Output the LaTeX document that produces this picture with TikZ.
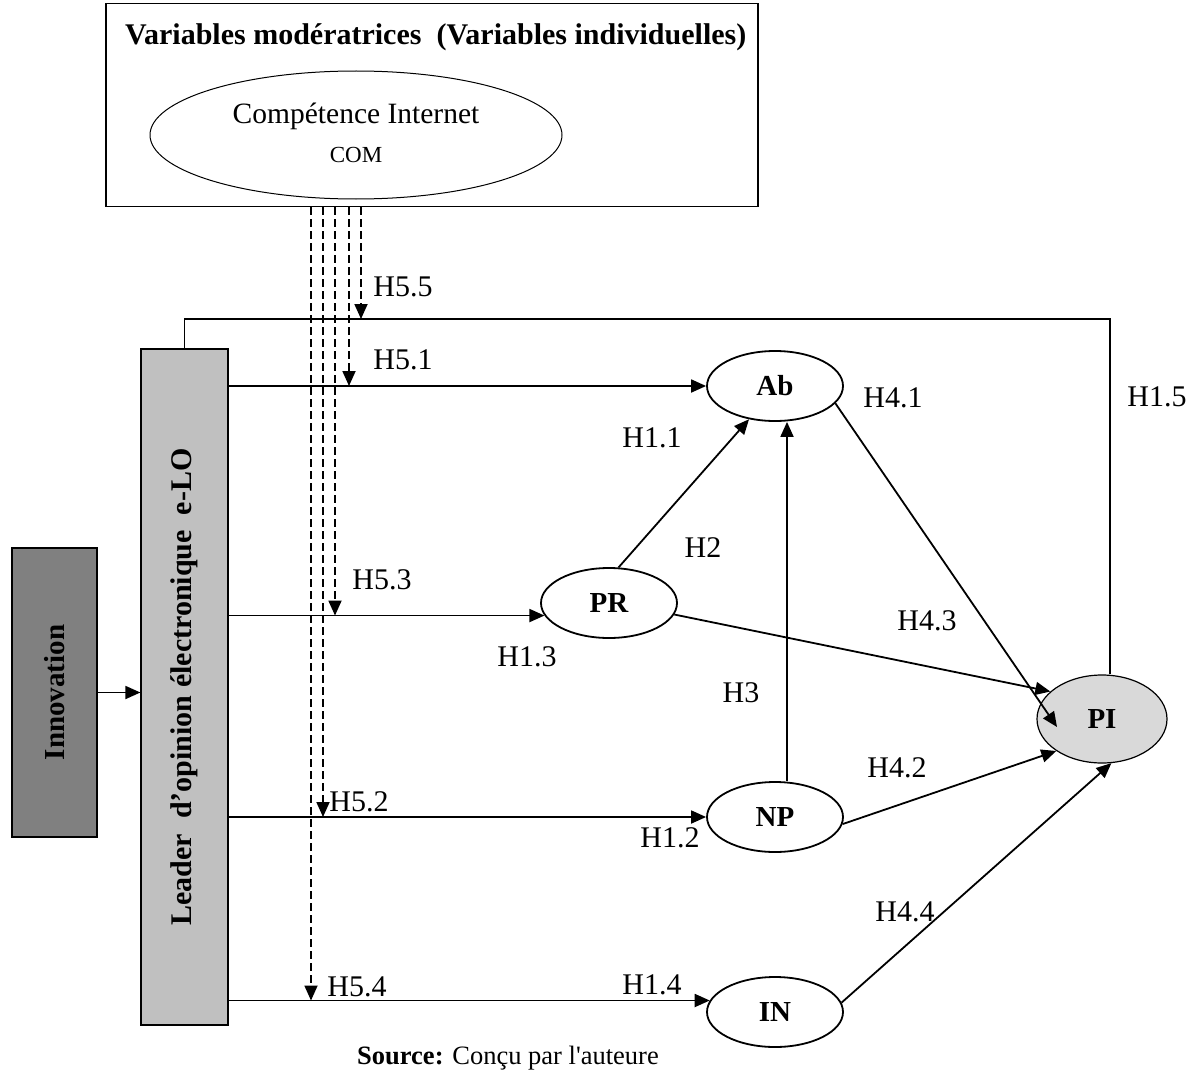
\documentclass[tikz,border=0pt]{standalone}
\usepackage{fontspec}
\setmainfont{Liberation Serif}
\newfontfamily\rawserif{Liberation Serif}
\usetikzlibrary{arrows.meta,shapes.geometric}
\definecolor{innogray}{HTML}{808080}
\definecolor{elogray}{HTML}{C0C0C0}
\definecolor{pigray}{HTML}{D9D9D9}
\begin{document}
\begin{tikzpicture}[x=1pt,y=-1pt,
  hlabel/.style={font=\fontsize{30}{34}\selectfont, inner sep=0pt},
  var/.style={draw, ellipse, line width=1.8pt, minimum width=136pt, minimum height=70pt,
              inner sep=0pt, font=\bfseries\fontsize{29}{32}\selectfont},
  link/.style={line width=1.8pt, -{Triangle[length=15pt,width=13pt]}},
  modlink/.style={link, dash pattern=on 8pt off 4pt},
  plain/.style={line width=1.8pt},
  panel/.style={draw, line width=1.2pt, inner sep=0pt},
]
\useasboundingbox (0,0) rectangle (1204,1070);

% moderating variables panel
\node[panel, minimum width=652pt, minimum height=203pt] (modbox) at (432,105) {};
\node[anchor=west, inner sep=0pt, font=\bfseries\fontsize{30}{34}\selectfont] (modtitle) at (125,37)
  {Variables modératrices\ \ (Variables individuelles)};
\node[draw, ellipse, line width=1pt, minimum width=412pt, minimum height=128pt, inner sep=0pt] (com) at (356,135) {};
\node[inner sep=0pt, font=\fontsize{29.5}{32}\selectfont] (comname) at (356,116) {Compétence Internet};
\node[inner sep=0pt, font=\fontsize{23}{26}\selectfont] (comabbr) at (356,155) {COM};

% left blocks
\node[panel, fill=innogray, minimum width=85pt, minimum height=289pt] (inno) at (54.5,692.5) {};
\node[rotate=90, inner sep=0pt, font=\bfseries\fontsize{29}{32}\selectfont] (innotext) at (inno.center) {Innovation};
\node[panel, fill=elogray, minimum width=87pt, minimum height=676pt] (elo) at (184.5,687) {};
\node[rotate=90, inner sep=0pt, font=\bfseries\fontsize{30}{34}\selectfont] (elotext) at (elo.center)
  {Leader\ \ d’opinion électronique\ \ e-LO};

% constructs
\node[var] (ab) at (775,386) {Ab};
\node[var] (pr) at (609,603) {PR};
\node[var] (np) at (775,817) {NP};
\node[var] (in) at (775,1012) {IN};
\node[var, fill=pigray, line width=1.2pt, minimum width=130pt, minimum height=88pt] (pi) at (1102,719) {PI};

% innovation to e-LO
\draw[link] (inno.east) -- (inno.east -| elo.west);

% direct effects of e-LO
\draw[link] (elo.east |- ab.west) -- (ab.west);
\draw[link] (elo.east |- pr.191) -- (pr.191);
\draw[link] (elo.east |- np.west) -- (np.west);
\draw[link] (elo.east |- in.170) -- (in.170);
\coordinate (loopturn) at (1110,319);
\draw[plain] (elo.north) |- (loopturn) -- (loopturn |- pi.north);

% moderation by COM
\coordinate (m55) at (361,319);
\coordinate (m51) at (349,0);
\coordinate (m53) at (335,0);
\coordinate (m52) at (323,0);
\coordinate (m54) at (311,0);
\draw[modlink] (modbox.south -| m55) -- (m55);
\draw[modlink] (modbox.south -| m51) -- (m51 |- ab.west);
\draw[modlink] (modbox.south -| m53) -- (m53 |- pr.191);
\draw[modlink] (modbox.south -| m52) -- (m52 |- np.west);
\draw[modlink] (modbox.south -| m54) -- (m54 |- in.170);

% mediating paths
\draw[link] (pr.75) -- (ab.232);
\draw[link] ([xshift=12pt]np.north) -- ([xshift=12pt]ab.south);
\draw[link] (pr.-10) -- (pi.152);
\draw[link] (ab.-16) -- ([xshift=-45pt,yshift=-8pt]pi.center);
\draw[link] (np.-6) -- (pi.215);
\draw[link] (in.8) -- (pi.-78);

% hypothesis labels
\node[hlabel] (h55) at (403,287) {H5.5};
\node[hlabel] (h51) at (403,360) {H5.1};
\node[hlabel] (h53) at (382,580) {H5.3};
\node[hlabel] (h52) at (359,802) {H5.2};
\node[hlabel] (h54) at (357,987) {H5.4};
\node[hlabel] (h11) at (652,438) {H1.1};
\node[hlabel] (h41) at (893,398) {H4.1};
\node[hlabel] (h15) at (1157,397) {H1.5};
\node[hlabel] (h2) at (703,548) {H2};
\node[hlabel] (h43) at (927,621) {H4.3};
\node[hlabel] (h13) at (527,657) {H1.3};
\node[hlabel] (h3) at (741,693) {H3};
\node[hlabel] (h42) at (897,768) {H4.2};
\node[hlabel] (h12) at (670,838) {H1.2};
\node[hlabel] (h44) at (905,912) {H4.4};
\node[hlabel] (h14) at (652,985) {H1.4};

% source line
\node[inner sep=0pt, font=\fontsize{26.5}{30}\selectfont] (src) at (508,1058)
  {\textbf{Source:} {\rawserif Conçu par l'auteure}};
\end{tikzpicture}
\end{document}
